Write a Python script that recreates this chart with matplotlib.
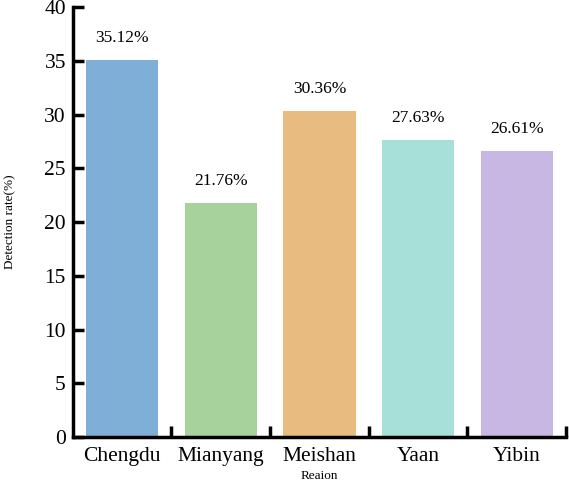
import matplotlib.pyplot as plt
from matplotlib.ticker import FixedLocator

regions = ["Chengdu", "Mianyang", "Meishan", "Yaan", "Yibin"]
rates = [35.12, 21.76, 30.36, 27.63, 26.61]
colors = ["#7fafd6", "#a8d29b", "#e8bb80", "#a6e0d8", "#c7b7e2"]

plt.rcParams['font.family'] = ['Liberation Serif', 'DejaVu Serif']

fig, ax = plt.subplots(figsize=(5.69, 4.83), dpi=100)
fig.subplots_adjust(left=0.128, right=0.995, top=0.985, bottom=0.095)

x = list(range(len(regions)))
ax.bar(x, rates, width=0.73, color=colors)
for xi, v in zip(x, rates):
    ax.text(xi, v + 1.3, f"{v:.2f}%", ha="center", va="bottom", fontsize=12.5)

ax.set_xlim(-0.5, len(regions) - 0.5)
ax.set_ylim(0, 40)
ax.set_xticks(x)
ax.set_xticklabels(regions, fontsize=15.5)
ax.xaxis.set_minor_locator(FixedLocator([i + 0.5 for i in x]))
ax.tick_params(axis="x", which="major", length=0, pad=7)
ax.tick_params(axis="x", which="minor", direction="in", length=8, width=2.5)
ax.tick_params(axis="y", direction="in", length=8, width=2.5, labelsize=15.5, pad=5)
ax.set_yticks(range(0, 41, 5))

for s in ["top", "right"]:
    ax.spines[s].set_visible(False)
for s in ["left", "bottom"]:
    ax.spines[s].set_linewidth(2.5)

ax.set_xlabel("Reaion", fontsize=9.5, labelpad=3)
ax.set_ylabel("Detection rate(%)", fontsize=9.5, labelpad=20)

fig.savefig("out.png")
